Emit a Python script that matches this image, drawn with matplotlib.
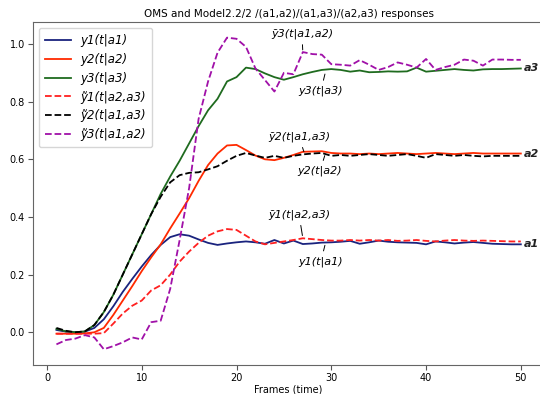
import matplotlib
matplotlib.use("Agg")
import matplotlib.pyplot as plt
import numpy as np

frames = list(range(1, 51))

y1 = [0.008, 0.002, 0.0, 0.002, 0.015, 0.045, 0.09, 0.14, 0.185, 0.228,
      0.268, 0.303, 0.33, 0.34, 0.335, 0.322, 0.31, 0.303, 0.308, 0.312,
      0.315, 0.312, 0.307, 0.32, 0.308, 0.318, 0.306, 0.308, 0.311, 0.312,
      0.314, 0.317, 0.307, 0.312, 0.318, 0.314, 0.312, 0.311, 0.31, 0.305,
      0.315, 0.312, 0.308, 0.311, 0.313, 0.31, 0.307, 0.306, 0.305, 0.305]

y2 = [-0.005, -0.005, -0.005, -0.004, 0.0, 0.015, 0.06, 0.11, 0.16, 0.212,
      0.26, 0.305, 0.36, 0.412, 0.465, 0.525, 0.58, 0.62, 0.648, 0.65,
      0.632, 0.613, 0.60, 0.597, 0.605, 0.615, 0.626, 0.627, 0.628, 0.622,
      0.62, 0.62, 0.618, 0.62, 0.618, 0.62, 0.622, 0.62, 0.618, 0.62,
      0.622, 0.62, 0.618, 0.62, 0.622, 0.62, 0.62, 0.62, 0.62, 0.62]

y3 = [0.012, 0.003, 0.0, 0.003, 0.025, 0.07, 0.13, 0.2, 0.27, 0.34,
      0.41, 0.48, 0.54, 0.595, 0.655, 0.715, 0.77, 0.81, 0.87, 0.885,
      0.918, 0.913, 0.898, 0.885, 0.876, 0.885, 0.895, 0.903, 0.91, 0.913,
      0.91, 0.904, 0.908, 0.902, 0.903, 0.905, 0.904, 0.905, 0.918, 0.904,
      0.907, 0.91, 0.913, 0.91, 0.908, 0.912, 0.913, 0.913, 0.914, 0.915]

yt1 = [-0.005, -0.005, -0.005, -0.005, -0.005, -0.003, 0.03, 0.065, 0.092, 0.11,
       0.145, 0.163, 0.2, 0.245, 0.28, 0.31, 0.335, 0.35, 0.358, 0.355,
       0.335, 0.315, 0.305, 0.31, 0.315, 0.32, 0.326, 0.323, 0.32, 0.318,
       0.318, 0.32, 0.318, 0.32, 0.318, 0.32, 0.317, 0.318, 0.32, 0.317,
       0.315, 0.318, 0.32, 0.318, 0.317, 0.318, 0.317, 0.316, 0.315, 0.315]

yt2 = [0.015, 0.005, 0.0, 0.003, 0.025, 0.07, 0.13, 0.2, 0.27, 0.34,
       0.41, 0.47, 0.52, 0.545, 0.553, 0.555, 0.565, 0.576, 0.595, 0.612,
       0.622, 0.613, 0.605, 0.612, 0.605, 0.612, 0.617, 0.62, 0.622, 0.612,
       0.615, 0.612, 0.615, 0.618, 0.615, 0.612, 0.615, 0.618, 0.612, 0.605,
       0.618, 0.615, 0.612, 0.615, 0.612, 0.61, 0.612, 0.612, 0.612, 0.612]

yt3 = [-0.042, -0.027, -0.022, -0.01, -0.018, -0.059, -0.048, -0.035, -0.018, -0.025,
       0.035, 0.04, 0.15, 0.32, 0.5, 0.74, 0.87, 0.97, 1.022, 1.018,
       0.99, 0.915, 0.875, 0.835, 0.9, 0.895, 0.972, 0.965, 0.963, 0.93,
       0.928, 0.925, 0.944, 0.928, 0.91, 0.92, 0.936, 0.928, 0.918, 0.948,
       0.91, 0.92, 0.928, 0.946, 0.942, 0.925, 0.946, 0.946, 0.945, 0.945]

labels = ["y1(t|a1)", "y2(t|a2)", "y3(t|a3)",
          "ỹ1(t|a2,a3)", "ỹ2(t|a1,a3)", "ỹ3(t|a1,a2)"]
end_labels = ["a1", "a2", "a3"]
title = "OMS and Model2.2/2 /(a1,a2)/(a1,a3)/(a2,a3) responses"

fig = plt.figure(figsize=(5.4, 3.94), dpi=100)
ax = fig.add_axes([0.0615, 0.074, 0.946, 0.870])

ax.plot(frames, y1, color="#1a237e", lw=1.3, label=labels[0])
ax.plot(frames, y2, color="#ff2a00", lw=1.3, label=labels[1])
ax.plot(frames, y3, color="#1f6b1f", lw=1.3, label=labels[2])
ax.plot(frames, yt1, color="#ff2020", lw=1.3, ls="--", label=labels[3])
ax.plot(frames, yt2, color="black", lw=1.3, ls="--", label=labels[4])
ax.plot(frames, yt3, color="#a010a8", lw=1.3, ls="--", label=labels[5])

ax.set_xlim(-1.45, 52.45)
ax.set_xticks([0, 10, 20, 30, 40, 50])
ax.set_yticks([0.0, 0.2, 0.4, 0.6, 0.8, 1.0])
ax.tick_params(labelsize=7, color="#555555", pad=2.5)
for s in ax.spines.values():
    s.set_color("#666666")
ax.set_xlabel("Frames (time)", fontsize=7, labelpad=1)
ax.set_title(title, fontsize=7.5, pad=4)

leg = ax.legend(loc="upper left", prop={"style": "italic", "size": 8.5},
                handlelength=2.2, labelspacing=0.5, borderpad=0.5)

ap = dict(arrowstyle="-", color="black", lw=0.7)
tk = dict(fontsize=8, style="italic", ha="center", va="center")
ax.annotate(labels[5], xy=(27.0, 0.97), xytext=(26.9, 1.035), arrowprops=ap, **tk)
ax.annotate(labels[2], xy=(29.4, 0.905), xytext=(28.9, 0.837), arrowprops=ap, **tk)
ax.annotate(labels[4], xy=(27.2, 0.617), xytext=(26.6, 0.678), arrowprops=ap, **tk)
ax.annotate(labels[1], xy=(29.4, 0.622), xytext=(28.8, 0.559), arrowprops=ap, **tk)
ax.annotate(labels[3], xy=(27.0, 0.326), xytext=(26.6, 0.408), arrowprops=ap, **tk)
ax.annotate(labels[0], xy=(29.4, 0.311), xytext=(28.9, 0.245), arrowprops=ap, **tk)

ends = [y1[-1], y2[-1], y3[-1]]
for lab, v in zip(end_labels, ends):
    ax.text(frames[-1] + 0.35, v, lab, fontsize=8, style="italic",
            fontweight="bold", ha="left", va="center", color="#222222")

fig.savefig("out.png", dpi=100)
